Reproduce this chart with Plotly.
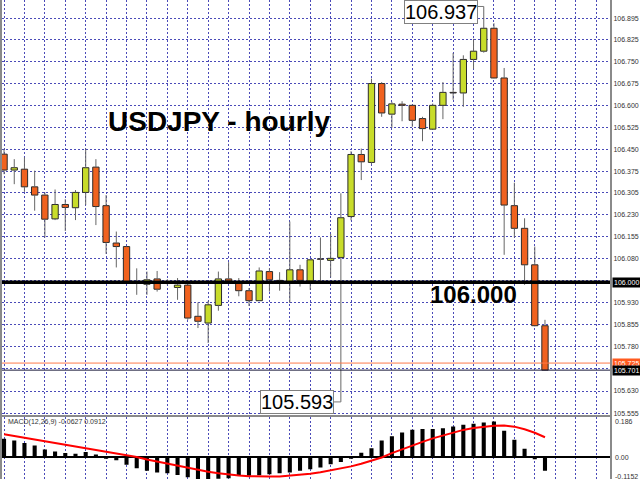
import plotly.graph_objects as go

# ---------------- data ----------------
bar_index = list(range(54))

open_ = [106.435, 106.381, 106.384, 106.324, 106.296, 106.215, 106.264, 106.253, 106.305, 106.391,
         106.260, 106.133, 106.121, 106.000, 105.993, 106.011, 106.000, 105.982, 105.990, 105.884,
         105.861, 105.921, 106.011, 105.997, 105.971, 105.937, 106.036, 106.006, 105.997, 106.042,
         106.004, 106.079, 106.074, 106.084, 106.223, 106.434, 106.407, 106.675, 106.571, 106.605,
         106.601, 106.556, 106.520, 106.601, 106.645, 106.643, 106.757, 106.785, 106.863, 106.694,
         106.260, 106.183, 106.059, 105.852]
high = [106.453, 106.418, 106.424, 106.379, 106.305, 106.315, 106.282, 106.313, 106.454, 106.418,
        106.296, 106.172, 106.123, 106.047, 106.036, 106.038, 106.010, 106.014, 105.997, 105.931,
        105.936, 106.036, 106.068, 106.014, 105.980, 106.050, 106.047, 106.034, 106.206, 106.059,
        106.078, 106.152, 106.164, 106.302, 106.445, 106.454, 106.692, 106.680, 106.613, 106.615,
        106.603, 106.562, 106.607, 106.680, 106.779, 106.771, 106.827, 106.937, 106.880, 106.728,
        106.338, 106.217, 106.121, 105.872]
low = [106.367, 106.333, 106.307, 106.243, 106.152, 106.211, 106.174, 106.211, 106.262, 106.194,
       106.096, 106.050, 105.997, 105.957, 105.957, 105.968, 105.990, 105.940, 105.872, 105.844,
       105.793, 105.903, 106.002, 105.952, 105.919, 105.936, 105.968, 105.971, 105.929, 105.985,
       105.974, 106.004, 106.016, 105.593, 106.210, 106.347, 106.400, 106.562, 106.525, 106.547,
       106.528, 106.479, 106.518, 106.554, 106.620, 106.596, 106.725, 106.780, 106.693, 106.093,
       106.152, 105.991, 105.850, 105.699]
close = [106.381, 106.389, 106.324, 106.296, 106.214, 106.264, 106.254, 106.305, 106.389, 106.257,
         106.135, 106.121, 106.002, 105.999, 106.008, 105.976, 105.999, 105.990, 105.878, 105.867,
         105.923, 106.011, 106.004, 105.971, 105.937, 106.038, 106.008, 106.005, 106.042, 106.006,
         106.076, 106.078, 106.081, 106.219, 106.434, 106.409, 106.675, 106.575, 106.606, 106.601,
         106.550, 106.522, 106.601, 106.645, 106.643, 106.757, 106.785, 106.863, 106.694, 106.262,
         106.183, 106.059, 105.852, 105.701]

macd_main = [0.0847, 0.0756, 0.0650, 0.0529, 0.0348, 0.0257, 0.0181, 0.0151, 0.0227, 0.0121,
             -0.0030, -0.0150, -0.0360, -0.0510, -0.0630, -0.0710, -0.0740, -0.0830, -0.0930, -0.1152,
             -0.1040, -0.1000, -0.0970, -0.0862, -0.0862, -0.0832, -0.0786, -0.0741, -0.0711, -0.0635,
             -0.0560, -0.0484, -0.0333, -0.0227, -0.0076, 0.0197, 0.0408, 0.0756, 0.0953, 0.1134,
             0.1255, 0.1285, 0.1285, 0.1331, 0.1406, 0.1482, 0.1528, 0.1588, 0.1633, 0.1210,
             0.0801, 0.0378, -0.0106, -0.0627]
macd_signal = [0.105, 0.097, 0.089, 0.081, 0.073, 0.065, 0.057, 0.048, 0.040, 0.032,
               0.024, 0.016, 0.008, 0.000, -0.011, -0.021, -0.031, -0.040, -0.050, -0.060,
               -0.068, -0.075, -0.081, -0.085, -0.088, -0.090, -0.090, -0.089, -0.086, -0.082,
               -0.077, -0.070, -0.062, -0.053, -0.043, -0.031, -0.017, -0.002, 0.018, 0.036,
               0.053, 0.070, 0.086, 0.100, 0.113, 0.125, 0.134, 0.140, 0.144, 0.145,
               0.140, 0.128, 0.112, 0.0912]

price_ticks = [105.555, 105.630, 105.705, 105.780, 105.855, 105.930, 106.005, 106.080, 106.155,
               106.230, 106.305, 106.375, 106.450, 106.525, 106.600, 106.675, 106.750, 106.825, 106.895]
price_tick_text = ["105.555", "105.630", "", "105.780", "105.855", "105.930", "", "106.080", "106.155",
                   "106.230", "106.305", "106.375", "106.450", "106.525", "106.600", "106.675", "106.750",
                   "106.825", "106.895"]

level_line = 106.000
ask_price = 105.725
bid_price = 105.701
high_idx, high_val = 47, 106.937
low_idx, low_val = 33, 105.593
title_text = "USDJPY - hourly"
level_text = "106.000"
macd_text = "MACD(12,26,9) -0.0627 0.0912"
macd_labels = ["0.186", "0.00", "-0.1152"]

# ---------------- styles ----------------
FONT = "Liberation Sans"
GRID = "#4a4ab8"
UP_FILL = "#c8dc2a"
DN_FILL = "#f0621f"
OUTLINE = "#2b2b2b"
WICK = "#666666"
FRAME = "#8a8a8a"

fig = go.Figure()

# wicks (split above/below the body)
wx, wy = [], []
for i, o, h, l, c in zip(bar_index, open_, high, low, close):
    top, bot = max(o, c), min(o, c)
    wx += [i, i, None, i, i, None]
    wy += [h, top, None, bot, l, None]
fig.add_trace(go.Scatter(x=wx, y=wy, mode="lines", line=dict(color=WICK, width=1),
                         hoverinfo="skip", xaxis="x", yaxis="y"))

body_base = [min(o, c) for o, c in zip(open_, close)]
body_h = [abs(c - o) for o, c in zip(open_, close)]
body_col = [UP_FILL if c > o else DN_FILL for o, c in zip(open_, close)]
fig.add_trace(go.Bar(x=bar_index, y=body_h, base=body_base, width=0.62,
                     marker=dict(color=body_col, line=dict(color=OUTLINE, width=1)),
                     xaxis="x", yaxis="y"))

# MACD panel
fig.add_trace(go.Bar(x=bar_index, y=macd_main, width=0.4, marker=dict(color="black", line=dict(width=0)),
                     xaxis="x2", yaxis="y2"))
fig.add_trace(go.Scatter(x=bar_index, y=macd_signal, mode="lines", line=dict(color="#ff0000", width=2),
                         xaxis="x2", yaxis="y2"))

xr = [-0.2, 59.37]
fig.update_layout(
    width=640, height=480, margin=dict(l=0, r=30, t=0, b=0),
    paper_bgcolor="white", plot_bgcolor="white", showlegend=False, barmode="overlay",
    font=dict(family=FONT, color="#333333"),
    xaxis=dict(domain=[0, 1], range=xr, anchor="y", tick0=0, dtick=2,
               showgrid=True, gridcolor=GRID, griddash="2px,2px", gridwidth=1,
               showticklabels=False, ticks="", zeroline=False,
               showline=True, linecolor=FRAME, linewidth=2),
    yaxis=dict(domain=[0.1333, 1], range=[105.548, 106.959], anchor="x", side="right",
               tickmode="array", tickvals=price_ticks, ticktext=price_tick_text,
               tickfont=dict(size=7, color="#333333", family=FONT),
               showgrid=True, gridcolor=GRID, griddash="2px,2px", gridwidth=1,
               ticks="", zeroline=False, showline=True, linecolor=FRAME, linewidth=2, mirror=True),
    xaxis2=dict(domain=[0, 1], range=xr, anchor="y2", tick0=0, dtick=2,
                showgrid=True, gridcolor=GRID, griddash="2px,2px", gridwidth=1,
                showticklabels=False, ticks="", zeroline=False, showline=False),
    yaxis2=dict(domain=[0, 0.1302], range=[-0.101, 0.186], anchor="x2", side="right",
                showgrid=False, showticklabels=False, ticks="",
                zeroline=True, zerolinecolor="black", zerolinewidth=1.5,
                showline=True, linecolor=FRAME, linewidth=2, mirror=True),
)

shapes = [
    dict(type="line", xref="paper", x0=0, x1=1, yref="y", y0=level_line, y1=level_line,
         line=dict(color="black", width=3.5), layer="above"),
    dict(type="line", xref="paper", x0=0, x1=1, yref="y", y0=ask_price, y1=ask_price,
         line=dict(color="#ff7a4a", width=1), layer="above"),
    dict(type="line", xref="paper", x0=0, x1=1, yref="y", y0=bid_price, y1=bid_price,
         line=dict(color="#1a1a3a", width=1), layer="above"),
    dict(type="line", xref="x", x0=high_idx - 0.6, x1=high_idx, yref="y", y0=high_val, y1=high_val,
         line=dict(color="#777777", width=1), layer="above"),
    dict(type="line", xref="x", x0=low_idx - 0.7, x1=low_idx, yref="y", y0=low_val, y1=low_val,
         line=dict(color="#777777", width=1), layer="above"),
]
fig.update_layout(shapes=shapes)

ann = [
    dict(text="<b>" + title_text + "</b>", xref="paper", yref="paper", x=218 / 610, y=1 - 122 / 480,
         xanchor="center", yanchor="middle",
         showarrow=False, font=dict(size=28, color="black", family=FONT)),
    dict(text="<b>" + level_text + "</b>", xref="paper", yref="paper", x=473 / 610, y=1 - 295.5 / 480,
         xanchor="center", yanchor="middle",
         showarrow=False, font=dict(size=24, color="black", family=FONT)),
    dict(text="%.3f" % high_val, xref="x", yref="paper", x=high_idx - 0.6, y=1,
         xanchor="right", yanchor="top", showarrow=False,
         font=dict(size=20, color="black", family=FONT), bgcolor="white",
         bordercolor="#808080", borderwidth=1, borderpad=0),
    dict(text="%.3f" % low_val, xref="x", yref="y", x=low_idx - 0.7, y=low_val,
         xanchor="right", yanchor="middle", showarrow=False,
         font=dict(size=20, color="black", family=FONT), bgcolor="white",
         bordercolor="#808080", borderwidth=1, borderpad=0),
    dict(text="%.3f" % level_line, xref="paper", yref="y", x=1, y=level_line, xshift=2,
         xanchor="left", yanchor="middle", showarrow=False, bgcolor="black",
         font=dict(size=7, color="white", family=FONT), borderpad=1),
    dict(text="%.3f" % ask_price, xref="paper", yref="y", x=1, y=ask_price, xshift=2,
         xanchor="left", yanchor="middle", showarrow=False, bgcolor="#ff5a1f",
         font=dict(size=7, color="white", family=FONT), borderpad=1),
    dict(text="%.3f" % bid_price, xref="paper", yref="y", x=1, y=bid_price, xshift=2,
         xanchor="left", yanchor="middle", showarrow=False, bgcolor="black",
         font=dict(size=7, color="white", family=FONT), borderpad=1),
    dict(text=macd_text, xref="paper", yref="paper", x=4 / 610, y=1 - 423 / 480,
         xanchor="left", yanchor="middle", showarrow=False,
         font=dict(size=7, color="#333333", family=FONT)),
    dict(text=macd_labels[0], xref="paper", yref="paper", x=1, y=1 - 422 / 480, xshift=3,
         xanchor="left", yanchor="middle", showarrow=False, font=dict(size=7, color="#333333", family=FONT)),
    dict(text=macd_labels[1], xref="paper", yref="paper", x=1, y=1 - 458 / 480, xshift=3,
         xanchor="left", yanchor="middle", showarrow=False, font=dict(size=7, color="#333333", family=FONT)),
    dict(text=macd_labels[2], xref="paper", yref="paper", x=1, y=1 - 477 / 480, xshift=3,
         xanchor="left", yanchor="middle", showarrow=False, font=dict(size=7, color="#333333", family=FONT)),
]
fig.update_layout(annotations=ann)

fig.write_html("out.html", config={"displayModeBar": False},
               post_script="document.body.style.margin='0';document.body.style.overflow='hidden';")
